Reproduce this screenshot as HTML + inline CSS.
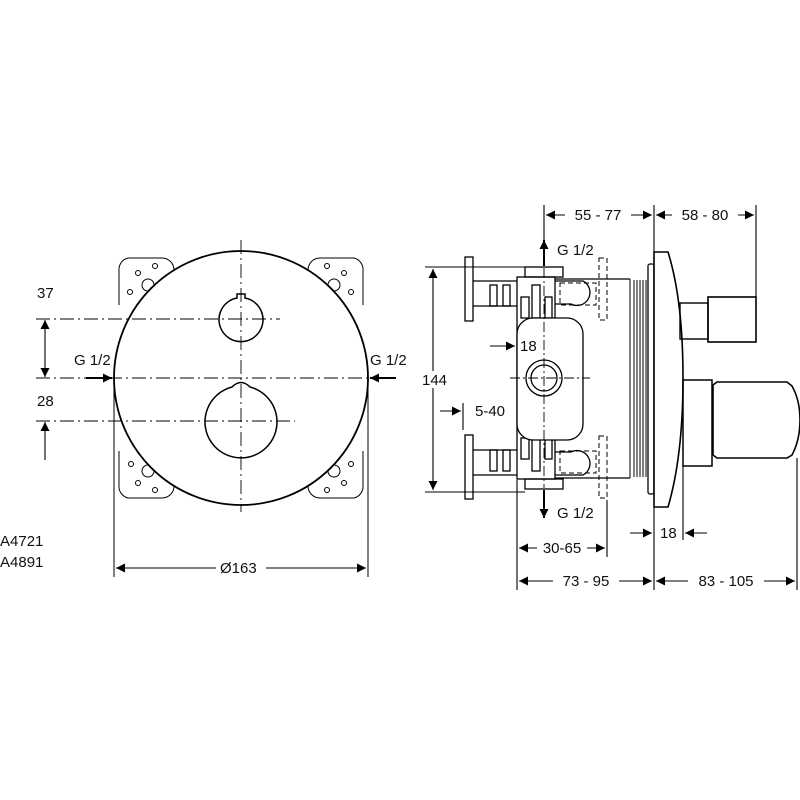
<!DOCTYPE html>
<html><head><style>
html,body{margin:0;padding:0;background:#fff;}
svg{display:block;}
text{font-family:"Liberation Sans",sans-serif;font-size:15px;fill:#111;}
</style></head><body>
<svg width="800" height="800" viewBox="0 0 800 800" xmlns="http://www.w3.org/2000/svg">
<defs>
<marker id="a" viewBox="0 0 10 10" refX="10" refY="5" markerWidth="14" markerHeight="9" orient="auto-start-reverse" markerUnits="userSpaceOnUse"><path d="M0,0 L10,5 L0,10 z" fill="#000"/></marker>
</defs>
<g fill="none" stroke="#000" stroke-width="1.3">
<g stroke-width="1">
<path d="M128,258 h34 a12,12 0 0 1 12,12 M119,305 v-34 a12,12 0 0 1 9,-13"/>
<path d="M354,258 h-34 a12,12 0 0 0 -12,12 M363,305 v-34 a12,12 0 0 0 -9,-13"/>
<path d="M128,498 h34 a12,12 0 0 0 12,-12 M119,451 v34 a12,12 0 0 0 9,13"/>
<path d="M354,498 h-34 a12,12 0 0 1 -12,-12 M363,451 v34 a12,12 0 0 1 -9,13"/>
<circle cx="155" cy="266" r="2.5"/><circle cx="138" cy="273" r="2.5"/><circle cx="130" cy="292" r="2.5"/><circle cx="148" cy="285" r="6"/>
<circle cx="327" cy="266" r="2.5"/><circle cx="344" cy="273" r="2.5"/><circle cx="351" cy="292" r="2.5"/><circle cx="334" cy="285" r="6"/>
<circle cx="155" cy="490" r="2.5"/><circle cx="138" cy="483" r="2.5"/><circle cx="131" cy="464" r="2.5"/><circle cx="148" cy="471" r="6"/>
<circle cx="327" cy="490" r="2.5"/><circle cx="344" cy="483" r="2.5"/><circle cx="351" cy="464" r="2.5"/><circle cx="334" cy="471" r="6"/>
</g>
<circle cx="241" cy="378" r="127" fill="#fff" stroke-width="1.8"/>
<path d="M237,298 v-4 h8 v4 A22,22 0 1 1 237,298 z" stroke-width="1.5"/>
<path d="M232,387 Q241,378 250,387 A36,36 0 1 1 232,387 z" stroke-width="1.5"/>
<g stroke-width="0.9" stroke-dasharray="14,4,2,4">
<line x1="241" y1="240" x2="241" y2="512"/>
<line x1="36" y1="319" x2="280" y2="319"/>
<line x1="36" y1="378" x2="370" y2="378"/>
<line x1="36" y1="421" x2="295" y2="421"/>
</g>
<line x1="114" y1="380" x2="114" y2="577" stroke-width="1"/>
<line x1="368" y1="380" x2="368" y2="577" stroke-width="1"/>
<line x1="116" y1="568" x2="366" y2="568" stroke-width="1.1" marker-start="url(#a)" marker-end="url(#a)"/>
<line x1="45" y1="320" x2="45" y2="377" stroke-width="1.1" marker-start="url(#a)" marker-end="url(#a)"/>
<line x1="45" y1="460" x2="45" y2="422" stroke-width="1.1" marker-end="url(#a)"/>
<line x1="86" y1="378" x2="112" y2="378" stroke-width="2" marker-end="url(#a)"/>
<line x1="396" y1="378" x2="370" y2="378" stroke-width="2" marker-end="url(#a)"/>

<g stroke-width="1.1">
<line x1="544" y1="205" x2="544" y2="262"/>
<line x1="654" y1="205" x2="654" y2="252"/>
<line x1="756" y1="205" x2="756" y2="297"/>
<line x1="546" y1="215" x2="652" y2="215" marker-start="url(#a)" marker-end="url(#a)"/>
<line x1="656" y1="215" x2="754" y2="215" marker-start="url(#a)" marker-end="url(#a)"/>
<line x1="425" y1="267" x2="525" y2="267"/>
<line x1="425" y1="492" x2="525" y2="492"/>
<line x1="433" y1="269" x2="433" y2="490" marker-start="url(#a)" marker-end="url(#a)"/>
<line x1="517" y1="480" x2="517" y2="590"/>
<line x1="607" y1="500" x2="607" y2="557"/>
<line x1="654" y1="507" x2="654" y2="590"/>
<line x1="683" y1="466" x2="683" y2="540"/>
<line x1="797" y1="458" x2="797" y2="590"/>
<line x1="519" y1="548" x2="605" y2="548" marker-start="url(#a)" marker-end="url(#a)"/>
<line x1="519" y1="581" x2="652" y2="581" marker-start="url(#a)" marker-end="url(#a)"/>
<line x1="656" y1="581" x2="795" y2="581" marker-start="url(#a)" marker-end="url(#a)"/>
<line x1="630" y1="533" x2="652" y2="533" marker-end="url(#a)"/>
<line x1="707" y1="533" x2="685" y2="533" marker-end="url(#a)"/>
<line x1="490" y1="346" x2="515" y2="346" marker-end="url(#a)"/>
<line x1="570" y1="346" x2="557" y2="346" marker-end="url(#a)"/>
<line x1="463" y1="403" x2="463" y2="430"/>
<line x1="440" y1="411" x2="461" y2="411" marker-end="url(#a)"/>
<line x1="540" y1="411" x2="519" y2="411" marker-end="url(#a)"/>
</g>
<line x1="544" y1="266" x2="544" y2="240" stroke-width="2" marker-end="url(#a)"/>
<line x1="544" y1="490" x2="544" y2="518" stroke-width="2" marker-end="url(#a)"/>
<g stroke-width="1.3">
<rect x="465" y="257" width="8" height="64"/><rect x="465" y="435" width="8" height="64"/>
<line x1="473" y1="281" x2="517" y2="281"/><line x1="473" y1="306" x2="517" y2="306"/>
<line x1="473" y1="450" x2="517" y2="450"/><line x1="473" y1="475" x2="517" y2="475"/>
<rect x="490" y="285" width="7" height="21"/><rect x="503" y="285" width="7" height="21"/>
<rect x="490" y="450" width="7" height="21"/><rect x="503" y="450" width="7" height="21"/>
<rect x="517" y="277" width="38" height="202"/>
<rect x="525" y="267" width="38" height="10"/><rect x="525" y="479" width="38" height="10"/>
<rect x="521" y="297" width="8" height="21"/><rect x="532" y="285" width="8" height="33"/><rect x="545" y="297" width="7" height="21"/>
<rect x="521" y="438" width="8" height="21"/><rect x="532" y="438" width="8" height="33"/><rect x="545" y="438" width="7" height="21"/>
<rect x="517" y="318" width="66" height="122" rx="16" fill="#fff"/>
<circle cx="544" cy="378" r="18"/><circle cx="544" cy="378" r="13"/>
<line x1="555" y1="279" x2="630" y2="279"/><line x1="555" y1="478" x2="630" y2="478"/>
<path d="M555,281 h28 a12,12 0 0 1 -12,23 h-16"/><path d="M555,475 h28 a12,12 0 0 0 -12,-23 h-16"/>
</g>
<g stroke-width="1" stroke-dasharray="5,3">
<rect x="560" y="283" width="36" height="22"/><rect x="599" y="258" width="8" height="62"/>
<rect x="560" y="451" width="36" height="22"/><rect x="599" y="436" width="8" height="62"/>
</g>
<g stroke-width="0.9" stroke-dasharray="10,3,2,3">
<line x1="544" y1="268" x2="544" y2="488"/>
<line x1="510" y1="378" x2="590" y2="378"/>
</g>
<g stroke-width="1"><line x1="630" y1="279" x2="630" y2="478"/>
<line x1="634" y1="280" x2="634" y2="477"/><line x1="637" y1="280" x2="637" y2="477"/><line x1="640" y1="280" x2="640" y2="477"/><line x1="643" y1="280" x2="643" y2="477"/><line x1="646" y1="280" x2="646" y2="477"/></g>
<rect x="648" y="264" width="6" height="230" rx="2" stroke-width="1.3"/>
<path d="M654,252 h14 Q683,300 683,378 Q683,456 668,507 h-14 z" stroke-width="1.6" fill="#fff"/>
<rect x="680" y="303" width="28" height="36" stroke-width="1.4"/>
<rect x="708" y="297" width="48" height="45" stroke-width="1.6"/>
<rect x="683" y="380" width="29" height="86" stroke-width="1.5"/>
<path d="M713,385 l4,-3 h70 l5,4 Q800,400 800,420 Q800,440 792,455 l-5,3 h-70 l-4,-3 z" stroke-width="1.6" fill="#fff"/>
</g>
<g>
<text x="37" y="298">37</text>
<text x="37" y="406">28</text>
<text x="74" y="365">G 1/2</text>
<text x="370" y="365">G 1/2</text>
<text x="0" y="546">A4721</text>
<text x="0" y="567">A4891</text>
<rect x="216" y="560" width="50" height="16" fill="#fff"/>
<text x="220" y="573">Ø163</text>
<text x="557" y="255">G 1/2</text>
<text x="557" y="518">G 1/2</text>
<rect x="420" y="371" width="28" height="17" fill="#fff"/>
<text x="422" y="385">144</text>
<text x="520" y="351">18</text>
<text x="475" y="416">5-40</text>
<text x="660" y="538">18</text>
<rect x="565" y="207" width="66" height="16" fill="#fff"/>
<text x="598" y="220" text-anchor="middle">55 - 77</text>
<rect x="672" y="207" width="66" height="16" fill="#fff"/>
<text x="705" y="220" text-anchor="middle">58 - 80</text>
<rect x="537" y="540" width="50" height="16" fill="#fff"/>
<text x="562" y="553" text-anchor="middle">30-65</text>
<rect x="553" y="573" width="66" height="16" fill="#fff"/>
<text x="586" y="586" text-anchor="middle">73 - 95</text>
<rect x="688" y="573" width="76" height="16" fill="#fff"/>
<text x="726" y="586" text-anchor="middle">83 - 105</text>
</g>
</svg>
</body></html>
